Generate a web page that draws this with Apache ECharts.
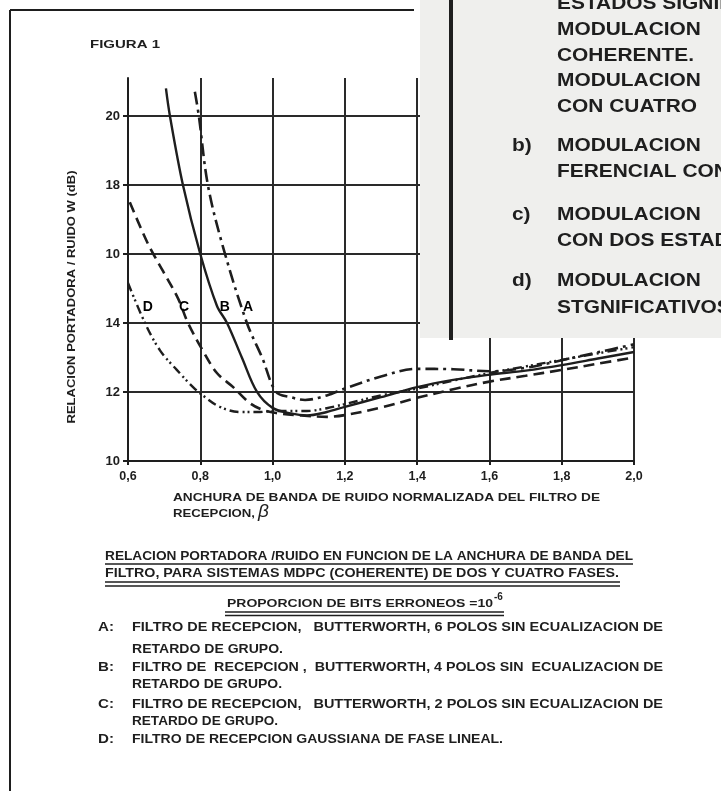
<!DOCTYPE html>
<html>
<head>
<meta charset="UTF-8">
<title>Figura 1</title>
<script src="https://cdn.jsdelivr.net/npm/echarts@6.0.0/dist/echarts.min.js"></script>
<style>
  body { margin: 0; padding: 0; background: #fff; }
  #chart { width: 721px; height: 791px; }
</style>
</head>
<body>
<div id="chart"></div>
<script>
// ejes
const xTicks = [0.6, 0.8, 1.0, 1.2, 1.4, 1.6, 1.8, 2.0];
const yTickLabels = ['10', '12', '14', '10', '18', '20'];   // asi aparece en la figura

// curvas (beta, dB)
const xA = [0.785, 0.796, 0.821, 0.863, 0.929, 0.971, 1.01, 1.05, 1.09, 1.15, 1.2, 1.3, 1.4, 1.5, 1.6, 1.7, 1.8, 1.9, 2.0];
const yA = [20.7, 20.0, 18.0, 16.2, 14.0, 13.0, 12.0, 11.85, 11.77, 11.9, 12.1, 12.45, 12.67, 12.66, 12.6, 12.7, 12.92, 13.15, 13.38];

const xB = [0.705, 0.716, 0.752, 0.8, 0.846, 0.874, 0.915, 0.957, 1.0, 1.05, 1.095, 1.15, 1.2, 1.3, 1.4, 1.5, 1.6, 1.7, 1.8, 1.9, 2.0];
const yB = [20.8, 20.0, 18.0, 16.0, 14.5, 14.0, 13.0, 12.0, 11.54, 11.38, 11.32, 11.42, 11.57, 11.85, 12.14, 12.35, 12.5, 12.62, 12.78, 12.97, 13.16];

const xC = [0.605, 0.655, 0.697, 0.739, 0.766, 0.807, 0.846, 0.891, 0.937, 0.973, 1.01, 1.08, 1.15, 1.2, 1.3, 1.4, 1.5, 1.6, 1.7, 1.8, 1.9, 2.0];
const yC = [17.5, 16.3, 15.5, 14.7, 14.0, 13.2, 12.55, 12.14, 11.68, 11.48, 11.39, 11.32, 11.28, 11.33, 11.55, 11.83, 12.08, 12.3, 12.47, 12.64, 12.82, 13.0];

const xD = [0.6, 0.647, 0.689, 0.735, 0.78, 0.807, 0.854, 0.91, 0.965, 1.0, 1.095, 1.15, 1.2, 1.3, 1.4, 1.5, 1.6, 1.7, 1.8, 1.9, 2.0];
const yD = [15.16, 14.0, 13.2, 12.64, 12.14, 11.9, 11.57, 11.42, 11.42, 11.45, 11.45, 11.53, 11.65, 11.9, 12.1, 12.33, 12.55, 12.74, 12.93, 13.12, 13.3];

// letras sobre las curvas
const curveNames = ['A', 'B', 'C', 'D'];
const labelX = [0.932, 0.868, 0.755, 0.655];
const labelY = [14.46, 14.46, 14.46, 14.46];

// texto de la leyenda: [letra, texto, y, ancho]
const legendLines = [
    ['A:', 'FILTRO DE RECEPCION,   BUTTERWORTH, 6 POLOS SIN ECUALIZACION DE', 628, 531],
    ['', 'RETARDO DE GRUPO.', 650, 151],
    ['B:', 'FILTRO DE  RECEPCION ,  BUTTERWORTH, 4 POLOS SIN  ECUALIZACION DE', 668, 531],
    ['', 'RETARDO DE GRUPO.', 685, 150],
    ['C:', 'FILTRO DE RECEPCION,   BUTTERWORTH, 2 POLOS SIN ECUALIZACION DE', 705, 531],
    ['', 'RETARDO DE GRUPO.', 722, 146],
    ['D:', 'FILTRO DE RECEPCION GAUSSIANA DE FASE LINEAL.', 740, 371]
];

// pagina superpuesta arriba a la derecha
const pageLines = [
    ['', 'ESTADOS SIGNIFICATIVOS', 4],
    ['', 'MODULACION', 30],
    ['', 'COHERENTE.', 56],
    ['', 'MODULACION', 81],
    ['', 'CON CUATRO', 107],
    ['b)', 'MODULACION', 146],
    ['', 'FERENCIAL CON', 172],
    ['c)', 'MODULACION', 215],
    ['', 'CON DOS ESTADOS', 241],
    ['d)', 'MODULACION', 281],
    ['', 'STGNIFICATIVOS', 308]
];

const ink = '#1e1e1e';
const FONT = '"Liberation Sans", Arial, sans-serif';
const measureCtx = document.createElement('canvas').getContext('2d');

function zip(xs, ys) {
    return xs.map((x, i) => [x, ys[i]]);
}

function textWidth(text, font) {
    measureCtx.font = font;
    return measureCtx.measureText(text).width;
}

// texto estirado en horizontal hasta el ancho que tiene en la figura
function txt(x, y, text, size, width, extra) {
    const font = 'bold ' + size + 'px ' + FONT;
    const sx = width ? width / textWidth(text, font) : 1;
    return Object.assign({
        type: 'text', z: 120, x: x, y: y, scaleX: sx,
        style: {
            x: 0, y: 0, text: text, fill: ink, font: font,
            textVerticalAlign: 'middle', verticalAlign: 'middle'
        }
    }, extra || {});
}

function hline(x1, x2, y, w) {
    return { type: 'line', z: 120, shape: { x1: x1, y1: y, x2: x2, y2: y }, style: { stroke: ink, lineWidth: w || 1.5 } };
}

const chart = echarts.init(document.getElementById('chart'));

const graphics = [];
// marco de la pagina
graphics.push({ type: 'line', z: 120, shape: { x1: 10, y1: 10, x2: 10, y2: 791 }, style: { stroke: ink, lineWidth: 2 } });
graphics.push(hline(10, 414, 10, 2));
graphics.push(txt(90, 45, 'FIGURA 1', 10.5, 70));

// titulo del eje y (girado)
const yName = txt(72, 297, 'RELACION PORTADORA / RUIDO W (dB)', 11, 253, { rotation: Math.PI / 2 });
yName.style.textAlign = 'center';
graphics.push(yName);

// titulo del eje x
graphics.push(txt(173, 498, 'ANCHURA DE BANDA DE RUIDO NORMALIZADA DEL FILTRO DE', 11, 427));
graphics.push(txt(173, 514, 'RECEPCION,', 11, 82));
graphics.push({
    type: 'text', z: 120,
    style: { x: 258, y: 512, text: 'β', fill: ink, font: 'italic 19px ' + FONT, textVerticalAlign: 'middle', verticalAlign: 'middle' }
});

// pie de figura
graphics.push(txt(105, 557, 'RELACION PORTADORA /RUIDO EN FUNCION DE LA ANCHURA DE BANDA DEL', 12.5, 528));
graphics.push(hline(105, 633, 564, 1.5));
graphics.push(txt(105, 574, 'FILTRO, PARA SISTEMAS MDPC (COHERENTE) DE DOS Y CUATRO FASES.', 12.5, 514));
graphics.push(hline(105, 620, 582, 1.5));
graphics.push(hline(105, 620, 586, 1.5));
graphics.push(txt(227, 604, 'PROPORCION DE BITS ERRONEOS =10', 11.5, 266));
graphics.push(txt(494, 597, '-6', 10));
graphics.push(hline(225, 504, 612, 1.5));
graphics.push(hline(225, 504, 615.5, 1.5));
legendLines.forEach(l => {
    if (l[0]) graphics.push(txt(98, l[2], l[0], 12.5, 16));
    graphics.push(txt(132, l[2], l[1], 12, l[3]));
});

// pagina superpuesta
graphics.push({ type: 'rect', z: 110, shape: { x: 420, y: 0, width: 301, height: 338 }, style: { fill: '#efefed' } });
graphics.push({ type: 'line', z: 120, shape: { x1: 451, y1: 0, x2: 451, y2: 340 }, style: { stroke: ink, lineWidth: 4 } });
pageLines.forEach(l => {
    if (l[0]) graphics.push(txt(512, l[2], l[0], 19, 0, { scaleX: 1.1 }));
    graphics.push(txt(557, l[2], l[1], 19, 0, { scaleX: 1.1 }));
});

const lineStyles = {
    A: { type: [13, 5, 3, 5], width: 2.6 },
    B: { type: 'solid', width: 2.4 },
    C: { type: [11, 6], width: 2.6 },
    D: { type: [9, 4, 2, 3, 2, 4], width: 2.4 }
};
const curves = { A: zip(xA, yA), B: zip(xB, yB), C: zip(xC, yC), D: zip(xD, yD) };

const series = curveNames.map(n => ({
    name: n,
    type: 'line',
    data: curves[n],
    smooth: 0.35,
    symbol: 'none',
    lineStyle: { color: ink, width: lineStyles[n].width, type: lineStyles[n].type },
    z: 5
}));
series.push({
    type: 'scatter',
    data: curveNames.map((n, i) => ({ value: [labelX[i], labelY[i]], name: n })),
    symbolSize: 1,
    itemStyle: { color: '#fff', opacity: 0 },
    label: {
        show: true, position: 'top', distance: -8, formatter: p => p.name,
        color: '#000', opacity: 1, fontFamily: FONT, fontWeight: 'bold', fontSize: 14
    },
    z: 6
});

chart.setOption({
    backgroundColor: '#fff',
    animation: false,
    grid: { left: 128, right: 87, top: 78, bottom: 330 },
    xAxis: {
        type: 'value', min: xTicks[0], max: xTicks[xTicks.length - 1], interval: 0.2,
        axisLine: { lineStyle: { color: ink, width: 2 } },
        axisTick: { show: true, length: 4, lineStyle: { color: ink, width: 2 } },
        axisLabel: {
            color: ink, fontFamily: FONT, fontWeight: 'bold', fontSize: 12.5, margin: 9,
            formatter: v => v.toFixed(1).replace('.', ',')
        },
        splitLine: { show: true, lineStyle: { color: '#2a2a2a', width: 2 } }
    },
    yAxis: {
        type: 'value', min: 10, max: 21.1, interval: 2,
        axisLine: { show: true, lineStyle: { color: ink, width: 2 } },
        axisTick: { show: true, length: 5, lineStyle: { color: ink, width: 2 } },
        axisLabel: {
            color: ink, fontFamily: FONT, fontWeight: 'bold', fontSize: 13, margin: 8,
            showMaxLabel: false,
            formatter: v => {
                const i = Math.round((v - 10) / 2);
                return Math.abs(v - (10 + 2 * i)) < 1e-6 ? (yTickLabels[i] || '') : '';
            }
        },
        splitLine: { show: true, showMaxLine: false, lineStyle: { color: '#2a2a2a', width: 1.8 } }
    },
    series: series,
    graphic: graphics
});
</script>
</body>
</html>
